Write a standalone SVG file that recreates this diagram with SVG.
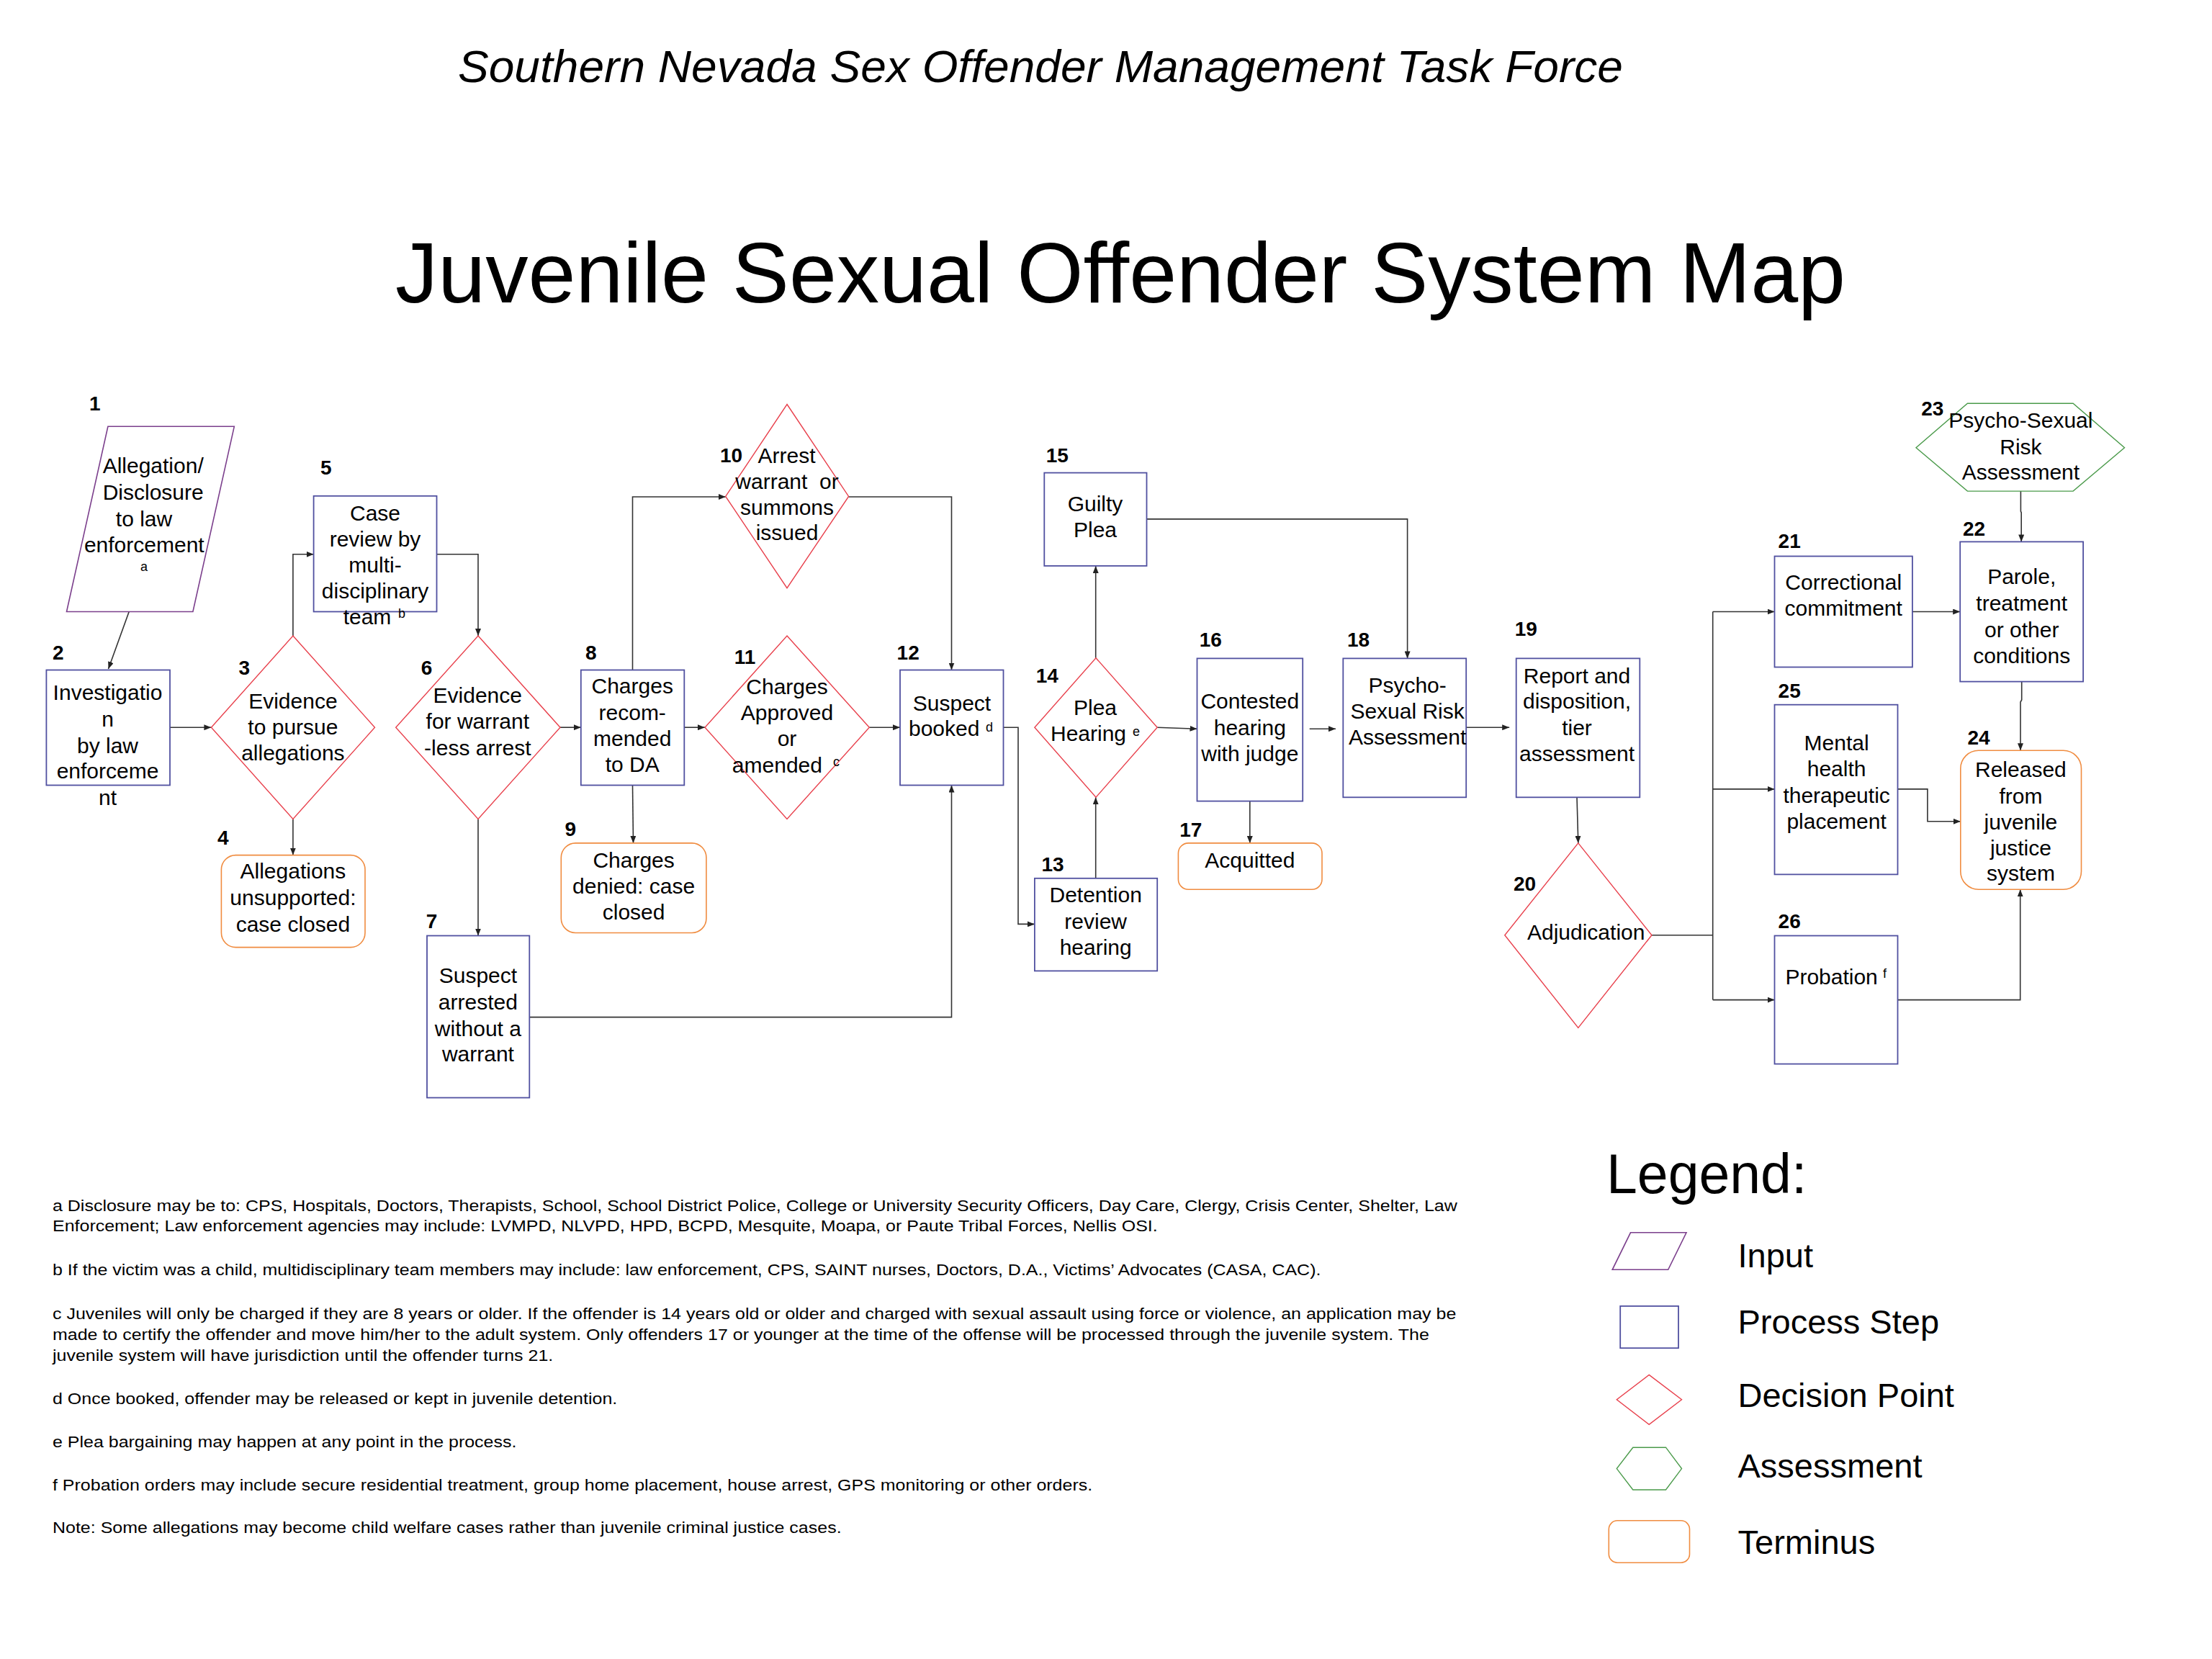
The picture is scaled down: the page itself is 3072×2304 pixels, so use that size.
<svg xmlns="http://www.w3.org/2000/svg" width="3072" height="2304" viewBox="0 0 3072 2304">
<defs>
<style>
text{font-family:"Liberation Sans",Arial,sans-serif;fill:#000}
.t{font-size:30px;text-anchor:middle}
.sup{font-size:18px}
.num{font-size:28px;font-weight:bold}
.fn{font-size:22px}
.lg{font-size:47px}
.inp{fill:#fff;stroke:#7b3f8c;stroke-width:1.6}
.proc{fill:#fff;stroke:#5050a0;stroke-width:1.8}
.dec{fill:#fff;stroke:#e8404c;stroke-width:1.4}
.asm{fill:#fff;stroke:#4a9a4a;stroke-width:1.4}
.term{fill:#fff;stroke:#f08c40;stroke-width:1.6}
.c{fill:none;stroke:#333;stroke-width:1.6;marker-end:url(#ah)}
.cn{fill:none;stroke:#333;stroke-width:1.6}
</style>
<marker id="ah" markerUnits="userSpaceOnUse" markerWidth="11" markerHeight="8" refX="10" refY="4" orient="auto">
<path d="M0,0 L10,4 L0,8 z" fill="#222"/>
</marker>
</defs>
<rect width="3072" height="2304" fill="#fff"/>

<text x="1445" y="114" style="font-size:63px;font-style:italic;text-anchor:middle" textLength="1618" lengthAdjust="spacingAndGlyphs">Southern Nevada Sex Offender Management Task Force</text>
<text x="1556" y="420" style="font-size:118px;text-anchor:middle" textLength="2014" lengthAdjust="spacingAndGlyphs">Juvenile Sexual Offender System Map</text>

<g id="connectors">
<path class="c" d="M179.2,849.5 L150.5,929"/>
<path class="c" d="M236,1010.2 L293.4,1010.2"/>
<path class="c" d="M406.9,883 L406.9,769.8 L435.6,769.8"/>
<path class="c" d="M406.9,1137.4 L406.9,1187.6"/>
<path class="c" d="M606.5,769.8 L664,769.8 L664,883"/>
<path class="c" d="M778,1010.2 L806.8,1010.2"/>
<path class="c" d="M664,1137.4 L664,1299.5"/>
<path class="c" d="M735.3,1412.6 L1321.5,1412.6 L1321.5,1090.5"/>
<path class="c" d="M878.5,930.5 L878.5,690 L1007.7,690"/>
<path class="c" d="M878.5,1090.5 L879.5,1170.9"/>
<path class="c" d="M950.3,1010.2 L979,1010.2"/>
<path class="c" d="M1178.6,690 L1321.5,690 L1321.5,930.5"/>
<path class="c" d="M1207.3,1010.2 L1250,1010.2"/>
<path class="c" d="M1393.5,1010.2 L1414,1010.2 L1414,1283.4 L1436.9,1283.4"/>
<path class="c" d="M1521.7,1219.8 L1521.7,1107.3"/>
<path class="c" d="M1521.7,913.8 L1521.7,785.9"/>
<path class="c" d="M1607.2,1010.2 L1662.5,1012.2"/>
<path class="c" d="M1592.5,720.9 L1954.6,720.9 L1954.6,914.4"/>
<path class="c" d="M1735.8,1112.6 L1735.8,1170.9"/>
<path class="c" d="M1818.7,1012.2 L1855,1012.2"/>
<path class="c" d="M2036.2,1010.2 L2096.2,1010.2"/>
<path class="c" d="M2190,1107.3 L2191.8,1170.9"/>
<path class="cn" d="M2293.9,1298.8 L2378.7,1298.8 M2378.7,849.5 L2378.7,1388.6"/>
<path class="c" d="M2378.7,849.5 L2464.5,849.5"/>
<path class="c" d="M2378.7,1095.9 L2464.5,1095.9"/>
<path class="c" d="M2378.7,1388.6 L2464.5,1388.6"/>
<path class="c" d="M2655.9,849.5 L2722.2,849.5"/>
<path class="c" d="M2806.4,682.1 L2806.4,710 L2807.2,712 L2807.2,752.4"/>
<path class="c" d="M2807.7,946.6 L2807.7,972 L2806,975 L2806,1042.3"/>
<path class="c" d="M2635.5,1095.9 L2676.9,1095.9 L2676.9,1140.8 L2722.8,1140.8"/>
<path class="c" d="M2635.5,1388.6 L2805.7,1388.6 L2805.7,1235.2"/>
</g>

<g id="n1">
<polygon class="inp" points="149.9,592.3 325.3,592.3 267.9,849.5 92.5,849.5"/>
<text class="num" x="124" y="570">1</text>
<text class="t" x="212.7" y="657.3">Allegation/</text>
<text class="t" x="212.7" y="694.1">Disclosure</text>
<text class="t" x="200" y="731">to law</text>
<text class="t" x="200.3" y="766.5">enforcement</text>
<text class="sup" x="200" y="793" text-anchor="middle">a</text>
</g>

<g id="n2">
<rect class="proc" x="64.4" y="930.5" width="171.6" height="160"/>
<text class="num" x="73" y="916">2</text>
<text class="t" x="149.5" y="972">Investigatio</text>
<text class="t" x="149.5" y="1008.9">n</text>
<text class="t" x="149.5" y="1045.8">by law</text>
<text class="t" x="149.5" y="1081.3">enforceme</text>
<text class="t" x="149.5" y="1118.1">nt</text>
</g>

<g id="n3">
<polygon class="dec" points="406.9,883 520.5,1010.2 406.9,1137.4 293.4,1010.2"/>
<text class="num" x="331.6" y="937">3</text>
<text class="t" x="406.9" y="984.2">Evidence</text>
<text class="t" x="406.9" y="1020.3">to pursue</text>
<text class="t" x="406.9" y="1055.8">allegations</text>
</g>

<g id="n4">
<rect class="term" x="307.4" y="1187.6" width="199.6" height="128" rx="20"/>
<text class="num" x="302" y="1173">4</text>
<text class="t" x="406.9" y="1219.8">Allegations</text>
<text class="t" x="406.9" y="1256.7">unsupported:</text>
<text class="t" x="406.9" y="1293.5">case closed</text>
</g>

<g id="n5">
<rect class="proc" x="435.6" y="688.8" width="170.9" height="160.7"/>
<text class="num" x="445" y="659">5</text>
<text class="t" x="521" y="723">Case</text>
<text class="t" x="521" y="759.1">review by</text>
<text class="t" x="521" y="794.6">multi-</text>
<text class="t" x="521" y="831.4">disciplinary</text>
<text class="t" x="510" y="866.9">team</text>
<text class="sup" x="553" y="858">b</text>
</g>

<g id="n6">
<polygon class="dec" points="664,883 778,1010.2 664,1137.4 549.7,1010.2"/>
<text class="num" x="584.8" y="937">6</text>
<text class="t" x="663.3" y="976">Evidence</text>
<text class="t" x="663.3" y="1012.3">for warrant</text>
<text class="t" x="663.3" y="1049.1">-less arrest</text>
</g>

<g id="n7">
<rect class="proc" x="593" y="1299.5" width="142.3" height="225"/>
<text class="num" x="591.8" y="1289">7</text>
<text class="t" x="663.9" y="1365.2">Suspect</text>
<text class="t" x="663.9" y="1402">arrested</text>
<text class="t" x="663.9" y="1438.8">without a</text>
<text class="t" x="663.9" y="1474.3">warrant</text>
</g>

<g id="n8">
<rect class="proc" x="806.8" y="930.5" width="143.5" height="160"/>
<text class="num" x="813" y="916">8</text>
<text class="t" x="878.2" y="963.4">Charges</text>
<text class="t" x="878.2" y="999.5">recom-</text>
<text class="t" x="878.2" y="1035.7">mended</text>
<text class="t" x="878.2" y="1071.9">to DA</text>
</g>

<g id="n9">
<rect class="term" x="779.3" y="1170.9" width="201.6" height="124.6" rx="20"/>
<text class="num" x="784.4" y="1161">9</text>
<text class="t" x="880.1" y="1204.5">Charges</text>
<text class="t" x="880.1" y="1241.3">denied: case</text>
<text class="t" x="880.1" y="1276.8">closed</text>
</g>

<g id="n10">
<polygon class="dec" points="1093,561.5 1178.6,689.4 1093,816.7 1007.7,689.4"/>
<text class="num" x="1000" y="642">10</text>
<text class="t" x="1092.5" y="642.6">Arrest</text>
<text class="t" x="1093" y="678.7" style="white-space:pre">warrant  or</text>
<text class="t" x="1093" y="714.9">summons</text>
<text class="t" x="1093" y="750.4">issued</text>
</g>

<g id="n11">
<polygon class="dec" points="1093,883 1207.3,1010.2 1093,1137.4 979,1010.2"/>
<text class="num" x="1019.8" y="922">11</text>
<text class="t" x="1093" y="964">Charges</text>
<text class="t" x="1093" y="1000.2">Approved</text>
<text class="t" x="1093" y="1036.4">or</text>
<text class="t" x="1079.4" y="1072.5">amended</text>
<text class="sup" x="1157" y="1064">c</text>
</g>

<g id="n12">
<rect class="proc" x="1250" y="930.5" width="143.5" height="160"/>
<text class="num" x="1245.6" y="916">12</text>
<text class="t" x="1322" y="986.8">Suspect</text>
<text class="t" x="1311.2" y="1022.3">booked</text>
<text class="sup" x="1369" y="1016">d</text>
</g>

<g id="n13">
<rect class="proc" x="1436.9" y="1219.8" width="170.3" height="128.6"/>
<text class="num" x="1446.5" y="1210">13</text>
<text class="t" x="1521.7" y="1253.4">Detention</text>
<text class="t" x="1521.7" y="1290.2">review</text>
<text class="t" x="1521.7" y="1325.7">hearing</text>
</g>

<g id="n14">
<polygon class="dec" points="1522,913.8 1607.2,1010.2 1522,1107.3 1436.9,1010.2"/>
<text class="num" x="1438.8" y="948">14</text>
<text class="t" x="1521" y="992.9">Plea</text>
<text class="t" x="1511.5" y="1029">Hearing</text>
<text class="sup" x="1573" y="1022">e</text>
</g>

<g id="n15">
<rect class="proc" x="1450.3" y="656.6" width="142.2" height="129.3"/>
<text class="num" x="1452.8" y="642">15</text>
<text class="t" x="1521" y="709.5">Guilty</text>
<text class="t" x="1521" y="745.7">Plea</text>
</g>

<g id="n16">
<rect class="proc" x="1662.5" y="914.4" width="146.7" height="198.2"/>
<text class="num" x="1665.7" y="898">16</text>
<text class="t" x="1735.8" y="984.2">Contested</text>
<text class="t" x="1735.8" y="1021">hearing</text>
<text class="t" x="1735.8" y="1057.1">with judge</text>
</g>

<g id="n17">
<rect class="term" x="1636.4" y="1170.9" width="199.6" height="64.3" rx="14"/>
<text class="num" x="1638.3" y="1162">17</text>
<text class="t" x="1735.8" y="1204.5">Acquitted</text>
</g>

<g id="n18">
<rect class="proc" x="1865.3" y="914.4" width="170.9" height="192.9"/>
<text class="num" x="1871" y="898">18</text>
<text class="t" x="1954.6" y="962">Psycho-</text>
<text class="t" x="1954.6" y="998.2">Sexual Risk</text>
<text class="t" x="1954.6" y="1034.3">Assessment</text>
</g>

<g id="n19">
<rect class="proc" x="2105.7" y="914.4" width="171.6" height="192.9"/>
<text class="num" x="2103.8" y="883">19</text>
<text class="t" x="2190" y="948.6">Report and</text>
<text class="t" x="2190" y="984.1">disposition,</text>
<text class="t" x="2190" y="1021">tier</text>
<text class="t" x="2190" y="1057.1">assessment</text>
</g>

<g id="n20">
<polygon class="dec" points="2191.8,1170.9 2293.9,1298.8 2191.8,1427.4 2089.8,1298.8"/>
<text class="num" x="2101.9" y="1237">20</text>
<text class="t" x="2202.7" y="1304.9">Adjudication</text>
</g>

<g id="n21">
<rect class="proc" x="2464.5" y="772.5" width="191.4" height="154"/>
<text class="num" x="2469.6" y="761">21</text>
<text class="t" x="2560.2" y="819.4">Correctional</text>
<text class="t" x="2560.2" y="854.9">commitment</text>
</g>

<g id="n22">
<rect class="proc" x="2722.2" y="752.4" width="170.9" height="194.2"/>
<text class="num" x="2726" y="744">22</text>
<text class="t" x="2807.7" y="811.3">Parole,</text>
<text class="t" x="2807.7" y="848.2">treatment</text>
<text class="t" x="2807.7" y="885">or other</text>
<text class="t" x="2807.7" y="920.5">conditions</text>
</g>

<g id="n23">
<polygon class="asm" points="2732.4,560.2 2879.1,560.2 2950.5,621.8 2879.1,682.1 2732.4,682.1 2661,621.8"/>
<text class="num" x="2668.3" y="577">23</text>
<text class="t" x="2806.4" y="593.7">Psycho-Sexual</text>
<text class="t" x="2806.4" y="630.5">Risk</text>
<text class="t" x="2806.4" y="666">Assessment</text>
</g>

<g id="n24">
<rect class="term" x="2722.8" y="1042.3" width="167.7" height="192.9" rx="25"/>
<text class="num" x="2732.4" y="1034">24</text>
<text class="t" x="2806.4" y="1079.2">Released</text>
<text class="t" x="2806.4" y="1116">from</text>
<text class="t" x="2806.4" y="1151.5">juvenile</text>
<text class="t" x="2806.4" y="1187.7">justice</text>
<text class="t" x="2806.4" y="1223.2">system</text>
</g>

<g id="n25">
<rect class="proc" x="2464.5" y="978.7" width="171" height="235.7"/>
<text class="num" x="2469.6" y="969">25</text>
<text class="t" x="2550.6" y="1042.3">Mental</text>
<text class="t" x="2550.6" y="1077.8">health</text>
<text class="t" x="2550.6" y="1114.7">therapeutic</text>
<text class="t" x="2550.6" y="1150.9">placement</text>
</g>

<g id="n26">
<rect class="proc" x="2464.5" y="1299.5" width="171" height="178.1"/>
<text class="num" x="2469.6" y="1289">26</text>
<text class="t" x="2543.6" y="1367.2">Probation</text>
<text class="sup" x="2615" y="1358">f</text>
</g>

<g id="footnotes" transform="matrix(1.1364 0 0 1 -9.96 0)">
<text class="fn" x="73" y="1682">a Disclosure may be to: CPS, Hospitals, Doctors, Therapists, School, School District Police, College or University Security Officers, Day Care, Clergy, Crisis Center, Shelter, Law</text>
<text class="fn" x="73" y="1710">Enforcement; Law enforcement agencies may include: LVMPD, NLVPD, HPD, BCPD, Mesquite, Moapa, or Paute Tribal Forces, Nellis OSI.</text>
<text class="fn" x="73" y="1771">b If the victim was a child, multidisciplinary team members may include: law enforcement, CPS, SAINT nurses, Doctors, D.A., Victims’ Advocates (CASA, CAC).</text>
<text class="fn" x="73" y="1832">c Juveniles will only be charged if they are 8 years or older. If the offender is 14 years old or older and charged with sexual assault using force or violence, an application may be</text>
<text class="fn" x="73" y="1861">made to certify the offender and move him/her to the adult system. Only offenders 17 or younger at the time of the offense will be processed through the juvenile system. The</text>
<text class="fn" x="73" y="1890">juvenile system will have jurisdiction until the offender turns 21.</text>
<text class="fn" x="73" y="1950">d Once booked, offender may be released or kept in juvenile detention.</text>
<text class="fn" x="73" y="2010">e Plea bargaining may happen at any point in the process.</text>
<text class="fn" x="73" y="2070">f Probation orders may include secure residential treatment, group home placement, house arrest, GPS monitoring or other orders.</text>
<text class="fn" x="73" y="2129">Note: Some allegations may become child welfare cases rather than juvenile criminal justice cases.</text>
</g>

<g id="legend">
<text x="2231" y="1657" style="font-size:77px">Legend:</text>
<polygon class="inp" points="2264.5,1711.8 2342,1711.8 2316.7,1763.3 2239.2,1763.3"/>
<text class="lg" x="2413.5" y="1760">Input</text>
<rect class="proc" x="2250.2" y="1813.9" width="80.8" height="58.3"/>
<text class="lg" x="2413.5" y="1852">Process Step</text>
<polygon class="dec" points="2290.2,1909.4 2335.5,1943.7 2290.2,1978.4 2245.3,1943.7"/>
<text class="lg" x="2413.5" y="1954">Decision Point</text>
<polygon class="asm" points="2267.8,2010.2 2313.5,2010.2 2335.5,2039.6 2313.5,2069 2267.8,2069 2245.3,2039.6"/>
<text class="lg" x="2413.5" y="2052">Assessment</text>
<rect class="term" x="2234.3" y="2111.8" width="112.2" height="58.4" rx="12"/>
<text class="lg" x="2413.5" y="2158">Terminus</text>
</g>
</svg>
